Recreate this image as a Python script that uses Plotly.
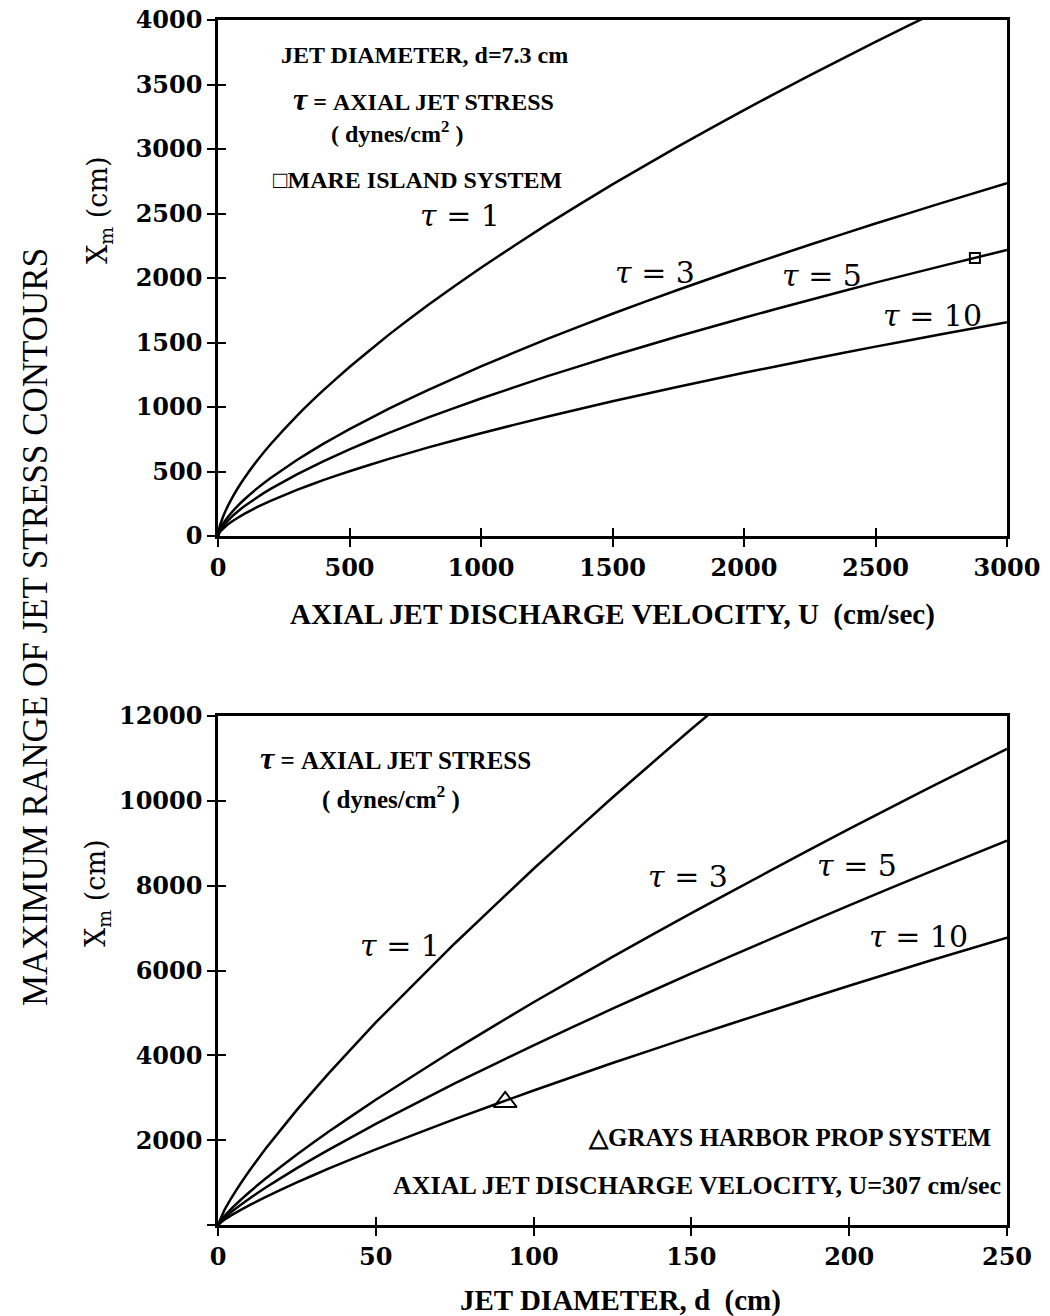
import plotly.graph_objects as go

# ---------------- data ----------------
# Top panel: jet diameter d = 7.3 cm, X_m vs axial jet discharge velocity U
U_vals = [0, 5, 10, 25, 50, 75, 100, 150, 200, 300, 400, 500, 650, 800, 1000, 1250, 1500,
          1750, 2000, 2250, 2500, 2750, 3000]
top_tau1 = [0, 61, 97, 178, 282, 370, 448, 587, 711, 932, 1129, 1310, 1561, 1793, 2080, 2414,
            2726, 3020, 3302, 3571, 3831, 4081, 4326]
top_tau3 = [0, 38, 61, 112, 178, 234, 283, 371, 450, 589, 714, 828, 987, 1133, 1315, 1526,
            1723, 1909, 2087, 2258, 2422, 2580, 2735]
top_tau5 = [0, 31, 49, 91, 145, 190, 230, 301, 365, 478, 579, 672, 800, 919, 1066, 1237,
            1397, 1548, 1692, 1830, 1964, 2092, 2217]
top_tau10 = [0, 23, 37, 68, 108, 142, 172, 225, 273, 357, 433, 502, 598, 687, 797, 925,
             1044, 1157, 1265, 1368, 1468, 1564, 1658]
mare_island_U = [2878]
mare_island_X = [2155]

# Bottom panel: U = 307 cm/sec, X_m vs jet diameter d
d_vals = [0, 2, 5, 10, 15, 25, 35, 50, 75, 100, 125, 150, 175, 200, 225, 250]
bot_tau1 = [0, 346, 730, 1286, 1790, 2714, 3570, 4775, 6637, 8398, 10078, 11693, 13250,
            14770, 16260, 17720]
bot_tau3 = [0, 204, 437, 777, 1088, 1663, 2197, 2953, 4136, 5251, 6320, 7354, 8353, 9341,
            10295, 11224]
bot_tau5 = [0, 165, 353, 627, 878, 1341, 1772, 2382, 3337, 4236, 5099, 5933, 6739, 7537,
            8306, 9059]
bot_tau10 = [0, 123, 264, 469, 657, 1004, 1327, 1784, 2497, 3171, 3818, 4441, 5046, 5642,
             6218, 6776]
grays_harbor_d = [91]
grays_harbor_X = [2900]

top_xticks = [0, 500, 1000, 1500, 2000, 2500, 3000]
top_yticks = [0, 500, 1000, 1500, 2000, 2500, 3000, 3500, 4000]
bot_xticks = [0, 50, 100, 150, 200, 250]
bot_yticks = [0, 2000, 4000, 6000, 8000, 10000, 12000]
bot_yticktext = ["", "2000", "4000", "6000", "8000", "10000", "12000"]

# ---------------- styling ----------------
W, H = 1050, 1316
TICKFONT = dict(family="DejaVu Serif", size=24, color="black", weight="bold")
LBLFONT = dict(family="Liberation Serif", size=24, color="black", weight="bold")
TITLEFONT = dict(family="Liberation Serif", size=29, color="black", weight="bold")
TAUFONT = dict(family="DejaVu Serif", size=30, color="black")
LINE = dict(color="black", width=2.5)
TAU_BIG = "<span style='font-size:32px'><i>τ</i></span>"

def px_x(p):
    return p / W

def px_y(p):
    return 1 - p / H

xdom = [px_x(218), px_x(1007)]
top_ydom = [px_y(536), px_y(20)]
bot_ydom = [px_y(1225), px_y(716)]

fig = go.Figure()

for ys in (top_tau1, top_tau3, top_tau5, top_tau10):
    fig.add_trace(go.Scatter(x=U_vals, y=ys, mode="lines", line=dict(shape="spline", smoothing=0.3, **LINE),
                             xaxis="x", yaxis="y", showlegend=False, hoverinfo="skip"))
fig.add_trace(go.Scatter(x=mare_island_U, y=mare_island_X, mode="markers",
                         marker=dict(symbol="square-open", size=10, color="black", line=dict(width=2)),
                         xaxis="x", yaxis="y", showlegend=False))

for ys in (bot_tau1, bot_tau3, bot_tau5, bot_tau10):
    fig.add_trace(go.Scatter(x=d_vals, y=ys, mode="lines", line=dict(shape="spline", smoothing=0.3, **LINE),
                             xaxis="x2", yaxis="y2", showlegend=False, hoverinfo="skip"))
fig.add_trace(go.Scatter(x=grays_harbor_d, y=grays_harbor_X, mode="markers",
                         marker=dict(symbol="triangle-up-open", size=20, color="black", line=dict(width=2)),
                         xaxis="x2", yaxis="y2", showlegend=False))

# invisible traces so overlay (inside-tick) axes render
fig.add_trace(go.Scatter(x=[None], y=[None], xaxis="x3", yaxis="y3", showlegend=False))
fig.add_trace(go.Scatter(x=[None], y=[None], xaxis="x4", yaxis="y4", showlegend=False))

axis_common = dict(showgrid=False, zeroline=False, showline=True, linecolor="black", linewidth=2.5,
                   mirror=True, ticks="outside", ticklen=8, tickwidth=2, tickcolor="black",
                   tickfont=TICKFONT, tickmode="array", automargin=False)
overlay_common = dict(showgrid=False, zeroline=False, showline=False, ticks="inside", ticklen=8,
                      tickwidth=2, tickcolor="black", showticklabels=False, tickmode="array",
                      automargin=False)

fig.update_layout(
    width=W, height=H, margin=dict(l=0, r=0, t=0, b=0, autoexpand=False),
    paper_bgcolor="white", plot_bgcolor="white",
    xaxis=dict(domain=xdom, anchor="y", range=[0, 3000], tickvals=top_xticks, **axis_common),
    yaxis=dict(domain=top_ydom, anchor="x", range=[0, 4000], tickvals=top_yticks, **axis_common),
    xaxis2=dict(domain=xdom, anchor="y2", range=[0, 250], tickvals=bot_xticks, **axis_common),
    yaxis2=dict(domain=bot_ydom, anchor="x2", range=[0, 12000], tickvals=bot_yticks,
                ticktext=bot_yticktext, **axis_common),
    xaxis3=dict(overlaying="x", anchor="y3", range=[0, 3000], tickvals=top_xticks, **overlay_common),
    yaxis3=dict(overlaying="y", anchor="x3", range=[0, 4000], tickvals=top_yticks, **overlay_common),
    xaxis4=dict(overlaying="x2", anchor="y4", range=[0, 250], tickvals=bot_xticks, **overlay_common),
    yaxis4=dict(overlaying="y2", anchor="x4", range=[0, 12000], tickvals=bot_yticks, **overlay_common),
)

ann = []

def add(text, x, y, xref, yref, font, xanchor="center", yanchor="middle", angle=0):
    ann.append(dict(text=text, x=x, y=y, xref=xref, yref=yref, showarrow=False, font=font,
                    xanchor=xanchor, yanchor=yanchor, textangle=angle))

# top panel texts
add("JET DIAMETER, d=7.3 cm", 787, 3729, "x", "y", LBLFONT)
add(TAU_BIG + " = AXIAL JET STRESS", 780, 3385, "x", "y", LBLFONT)
add("( dynes/cm<sup>2</sup> )", 681, 3135, "x", "y", LBLFONT)
add("□MARE ISLAND SYSTEM", 757, 2760, "x", "y", LBLFONT)
add("<i>τ</i> = 1", 920, 2488, "x", "y", TAUFONT)
add("<i>τ</i> = 3", 1662, 2039, "x", "y", TAUFONT)
add("<i>τ</i> = 5", 2297, 2016, "x", "y", TAUFONT)
add("<i>τ</i> = 10", 2715, 1713, "x", "y", TAUFONT)

# bottom panel texts
add(TAU_BIG + " = AXIAL JET STRESS", 56.1, 11012, "x2", "y2",
    dict(family="Liberation Serif", size=25, color="black", weight="bold"))
add("( dynes/cm<sup>2</sup> )", 54.8, 10071, "x2", "y2",
    dict(family="Liberation Serif", size=25, color="black", weight="bold"))
add("<i>τ</i> = 1", 57.7, 6588, "x2", "y2", TAUFONT)
add("<i>τ</i> = 3", 148.9, 8212, "x2", "y2", TAUFONT)
add("<i>τ</i> = 5", 202.5, 8471, "x2", "y2", TAUFONT)
add("<i>τ</i> = 10", 221.8, 6800, "x2", "y2", TAUFONT)
add("△GRAYS HARBOR PROP SYSTEM", 181.2, 2071, "x2", "y2",
    dict(family="Liberation Serif", size=25, color="black", weight="bold"))
add("AXIAL JET DISCHARGE VELOCITY, U=307 cm/sec", 248.8, 941, "x2", "y2",
    dict(family="Liberation Serif", size=26, color="black", weight="bold"), xanchor="right")

# axis titles
add("AXIAL JET DISCHARGE VELOCITY, U  (cm/sec)", px_x(612), px_y(614), "paper", "paper", TITLEFONT)
add("JET DIAMETER, d  (cm)", px_x(620), px_y(1300), "paper", "paper", TITLEFONT)
add("X<sub>m</sub> (cm)", px_x(100), px_y(210), "paper", "paper", dict(family="DejaVu Serif", size=27, color="black"), angle=-90)
add("X<sub>m</sub> (cm)", px_x(97), px_y(893), "paper", "paper", dict(family="DejaVu Serif", size=27, color="black"), angle=-90)
add("MAXIMUM RANGE OF JET STRESS CONTOURS", px_x(35), px_y(627), "paper", "paper",
    dict(family="Liberation Serif", size=35, color="black"), angle=-90)

fig.update_layout(annotations=ann)
fig.write_html("out.html")
